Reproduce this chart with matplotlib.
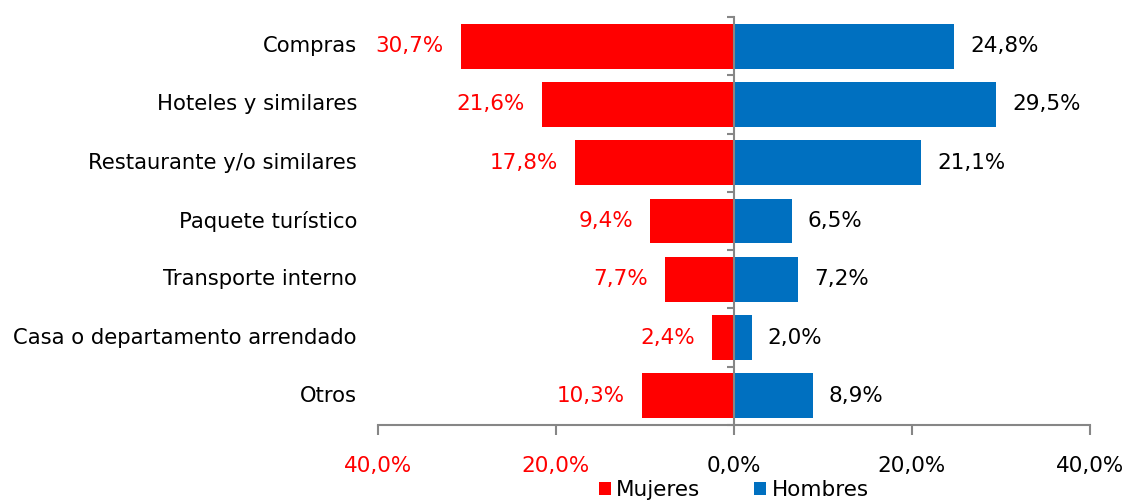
import matplotlib.pyplot as plt
import numpy as np

categorias = ["Compras", "Hoteles y similares", "Restaurante y/o similares",
              "Paquete turístico", "Transporte interno",
              "Casa o departamento arrendado", "Otros"]
mujeres = [30.7, 21.6, 17.8, 9.4, 7.7, 2.4, 10.3]
hombres = [24.8, 29.5, 21.1, 6.5, 7.2, 2.0, 8.9]
xticks = [-40, -20, 0, 20, 40]

rojo = "#FF0000"
azul = "#0070C0"
gris = "#868686"

plt.rcParams['font.family'] = ['DejaVu Sans']

fig = plt.figure(figsize=(11.28, 5.0), dpi=100)
ax = fig.add_axes([0.335, 0.15, 0.631, 0.816])

y = np.arange(len(categorias))
ax.barh(y, [-m for m in mujeres], height=0.77, color=rojo, label="Mujeres")
ax.barh(y, hombres, height=0.77, color=azul, label="Hombres")

ax.set_xlim(-40, 40)
ax.set_ylim(len(categorias) - 0.5, -0.5)

fmt = lambda v: f"{v:.1f}%".replace(".", ",")
for i, (m, h) in enumerate(zip(mujeres, hombres)):
    ax.annotate(fmt(m), (-m, i), xytext=(-17, 0), textcoords="offset pixels",
                ha="right", va="center", color=rojo, fontsize=15.5)
    ax.annotate(fmt(h), (h, i), xytext=(16, 0), textcoords="offset pixels",
                ha="left", va="center", color="black", fontsize=15.5)
    ax.annotate(categorias[i], (0, i), xycoords=("axes fraction", "data"),
                xytext=(-21, 0), textcoords="offset pixels",
                ha="right", va="center", fontsize=15.2)

# eje central con marcas entre categorias
ax.spines['left'].set_position(('data', 0))
ax.spines['left'].set_color(gris)
ax.spines['left'].set_linewidth(1.5)
ax.set_yticks(np.arange(-0.5, len(categorias), 1))
ax.set_yticklabels([])
ax.tick_params(axis='y', length=5, width=1.5, color=gris, direction='out')
ax.spines['left'].set_zorder(5)

ax.spines['bottom'].set_color(gris)
ax.spines['bottom'].set_linewidth(1.5)
ax.spines['top'].set_visible(False)
ax.spines['right'].set_visible(False)
ax.set_xticks(xticks)
ax.set_xticklabels([fmt(abs(t)) for t in xticks], fontsize=15.5)
ax.tick_params(axis='x', length=7, width=1.5, color=gris, pad=15)
for t, lab in zip(xticks, ax.get_xticklabels()):
    lab.set_color(rojo if t < 0 else "black")

ax.legend(loc="center", bbox_to_anchor=(0.5, -0.16), ncol=2, frameon=False,
          fontsize=15.5, handlelength=0.55, handleheight=0.55, handletextpad=0.25,
          columnspacing=2.5, borderaxespad=0)

fig.savefig("out.png", dpi=100)
